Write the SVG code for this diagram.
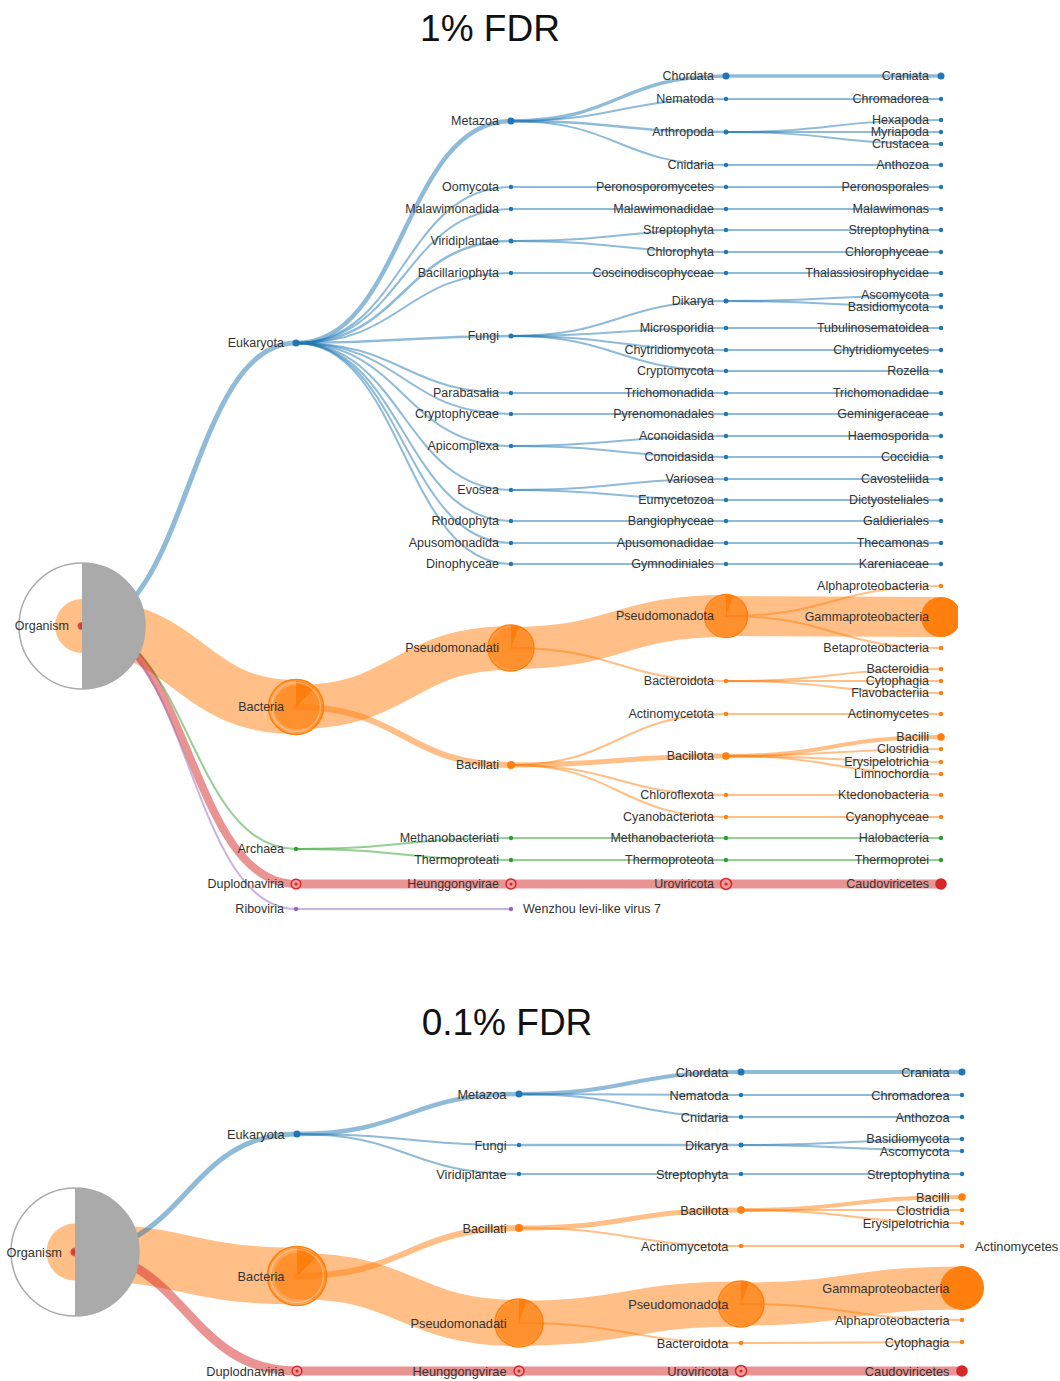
<svg xmlns="http://www.w3.org/2000/svg" width="1060" height="1381" viewBox="0 0 1060 1381">
<style>
.l{fill:none;stroke-opacity:.5;stroke-linecap:round}
.b{stroke:#1f77b4}.o{stroke:#ff7f0e}.g{stroke:#2ca02c}.r{stroke:#d62728}.p{stroke:#9467bd}
.w2{stroke-width:2}
text{font-family:"Liberation Sans",Arial,sans-serif;fill:#333}
.t{font-size:12.5px;text-anchor:end}
.tb{font-size:12.8px;text-anchor:end}
.ts{text-anchor:start}
.title{font-size:37px;fill:#111;text-anchor:middle}
.db{fill:#1f77b4}.do{fill:#ff7f0e}.dg{fill:#2ca02c}.dp{fill:#9467bd}
.pie{fill:#ff7f0e;fill-opacity:.45;stroke:#ff7f0e;stroke-width:1.5}
.wedge{fill:#ff7f0e}
.ring{fill:none;stroke:#fff;stroke-opacity:.3;stroke-width:1.5}
.vr{fill:#ec9c9c;stroke:#d62728;stroke-width:1.5}
.vc{fill:#d62728}
.org{fill:none;stroke:#aaa;stroke-width:1.5}
.orgf{fill:#aaa}
</style>
<defs>
<clipPath id="clipTop"><rect x="0" y="0" width="958" height="960"/></clipPath>
</defs>

<text class="title" x="490" y="41">1% FDR</text>
<text class="title" x="507" y="1035">0.1% FDR</text>

<g id="top" clip-path="url(#clipTop)">
<g id="connectors-top">
<path class="l o" stroke-width="54" d="M82 626C189 626 189 707 296 707"/>
<path class="l o" stroke-width="44" d="M296 707C403.5 707 403.5 648 511 648"/>
<path class="l o" stroke-width="42" d="M511 648C618.5 648 618.5 616 726 616"/>
<path class="l o" stroke-width="40" d="M726 616C833.5 616 833.5 617 941 617"/>
<path class="l b" stroke-width="5" d="M82 626C189 626 189 343 296 343"/>
<path class="l g w2" d="M82 626C189 626 189 849 296 849"/>
<path class="l r" stroke-width="8" d="M82 626C189 626 189 884 296 884"/>
<path class="l p w2" d="M82 626C189 626 189 909 296 909"/>
<path class="l b" stroke-width="4.5" d="M296 343C403.5 343 403.5 121 511 121"/>
<path class="l b w2" d="M296 343C403.5 343 403.5 187 511 187"/>
<path class="l b w2" d="M296 343C403.5 343 403.5 209 511 209"/>
<path class="l b" stroke-width="2.5" d="M296 343C403.5 343 403.5 241 511 241"/>
<path class="l b w2" d="M296 343C403.5 343 403.5 273 511 273"/>
<path class="l b" stroke-width="2.5" d="M296 343C403.5 343 403.5 336 511 336"/>
<path class="l b w2" d="M296 343C403.5 343 403.5 393 511 393"/>
<path class="l b w2" d="M296 343C403.5 343 403.5 414 511 414"/>
<path class="l b w2" d="M296 343C403.5 343 403.5 446 511 446"/>
<path class="l b w2" d="M296 343C403.5 343 403.5 490 511 490"/>
<path class="l b w2" d="M296 343C403.5 343 403.5 521 511 521"/>
<path class="l b w2" d="M296 343C403.5 343 403.5 543 511 543"/>
<path class="l b w2" d="M296 343C403.5 343 403.5 564 511 564"/>
<path class="l b" stroke-width="3.5" d="M511 121C618.5 121 618.5 76 726 76"/>
<path class="l b w2" d="M511 121C618.5 121 618.5 99 726 99"/>
<path class="l b" stroke-width="2.5" d="M511 121C618.5 121 618.5 132 726 132"/>
<path class="l b w2" d="M511 121C618.5 121 618.5 165 726 165"/>
<path class="l b w2" d="M511 187C618.5 187 618.5 187 726 187"/>
<path class="l b w2" d="M511 209C618.5 209 618.5 209 726 209"/>
<path class="l b w2" d="M511 241C618.5 241 618.5 230 726 230"/>
<path class="l b w2" d="M511 241C618.5 241 618.5 252 726 252"/>
<path class="l b w2" d="M511 273C618.5 273 618.5 273 726 273"/>
<path class="l b w2" d="M511 336C618.5 336 618.5 301 726 301"/>
<path class="l b w2" d="M511 336C618.5 336 618.5 328 726 328"/>
<path class="l b w2" d="M511 336C618.5 336 618.5 350 726 350"/>
<path class="l b w2" d="M511 336C618.5 336 618.5 371 726 371"/>
<path class="l b w2" d="M511 393C618.5 393 618.5 393 726 393"/>
<path class="l b w2" d="M511 414C618.5 414 618.5 414 726 414"/>
<path class="l b w2" d="M511 446C618.5 446 618.5 436 726 436"/>
<path class="l b w2" d="M511 446C618.5 446 618.5 457 726 457"/>
<path class="l b w2" d="M511 490C618.5 490 618.5 479 726 479"/>
<path class="l b w2" d="M511 490C618.5 490 618.5 500 726 500"/>
<path class="l b w2" d="M511 521C618.5 521 618.5 521 726 521"/>
<path class="l b w2" d="M511 543C618.5 543 618.5 543 726 543"/>
<path class="l b w2" d="M511 564C618.5 564 618.5 564 726 564"/>
<path class="l b" stroke-width="3.5" d="M726 76C833.5 76 833.5 76 941 76"/>
<path class="l b w2" d="M726 99C833.5 99 833.5 99 941 99"/>
<path class="l b w2" d="M726 132C833.5 132 833.5 120 941 120"/>
<path class="l b w2" d="M726 132C833.5 132 833.5 132 941 132"/>
<path class="l b w2" d="M726 132C833.5 132 833.5 144 941 144"/>
<path class="l b w2" d="M726 165C833.5 165 833.5 165 941 165"/>
<path class="l b w2" d="M726 187C833.5 187 833.5 187 941 187"/>
<path class="l b w2" d="M726 209C833.5 209 833.5 209 941 209"/>
<path class="l b w2" d="M726 230C833.5 230 833.5 230 941 230"/>
<path class="l b w2" d="M726 252C833.5 252 833.5 252 941 252"/>
<path class="l b w2" d="M726 273C833.5 273 833.5 273 941 273"/>
<path class="l b w2" d="M726 301C833.5 301 833.5 295 941 295"/>
<path class="l b w2" d="M726 301C833.5 301 833.5 307 941 307"/>
<path class="l b w2" d="M726 328C833.5 328 833.5 328 941 328"/>
<path class="l b w2" d="M726 350C833.5 350 833.5 350 941 350"/>
<path class="l b w2" d="M726 371C833.5 371 833.5 371 941 371"/>
<path class="l b w2" d="M726 393C833.5 393 833.5 393 941 393"/>
<path class="l b w2" d="M726 414C833.5 414 833.5 414 941 414"/>
<path class="l b w2" d="M726 436C833.5 436 833.5 436 941 436"/>
<path class="l b w2" d="M726 457C833.5 457 833.5 457 941 457"/>
<path class="l b w2" d="M726 479C833.5 479 833.5 479 941 479"/>
<path class="l b w2" d="M726 500C833.5 500 833.5 500 941 500"/>
<path class="l b w2" d="M726 521C833.5 521 833.5 521 941 521"/>
<path class="l b w2" d="M726 543C833.5 543 833.5 543 941 543"/>
<path class="l b w2" d="M726 564C833.5 564 833.5 564 941 564"/>
<path class="l o" stroke-width="6" d="M296 707C403.5 707 403.5 765 511 765"/>
<path class="l o w2" d="M511 648C618.5 648 618.5 681 726 681"/>
<path class="l o w2" d="M511 765C618.5 765 618.5 714 726 714"/>
<path class="l o" stroke-width="5" d="M511 765C618.5 765 618.5 756 726 756"/>
<path class="l o w2" d="M511 765C618.5 765 618.5 795 726 795"/>
<path class="l o w2" d="M511 765C618.5 765 618.5 817 726 817"/>
<path class="l o w2" d="M726 616C833.5 616 833.5 586 941 586"/>
<path class="l o w2" d="M726 616C833.5 616 833.5 648 941 648"/>
<path class="l o w2" d="M726 681C833.5 681 833.5 669 941 669"/>
<path class="l o w2" d="M726 681C833.5 681 833.5 681 941 681"/>
<path class="l o w2" d="M726 681C833.5 681 833.5 693 941 693"/>
<path class="l o w2" d="M726 714C833.5 714 833.5 714 941 714"/>
<path class="l o" stroke-width="4" d="M726 756C833.5 756 833.5 737 941 737"/>
<path class="l o w2" d="M726 756C833.5 756 833.5 749 941 749"/>
<path class="l o w2" d="M726 756C833.5 756 833.5 762 941 762"/>
<path class="l o w2" d="M726 756C833.5 756 833.5 774 941 774"/>
<path class="l o w2" d="M726 795C833.5 795 833.5 795 941 795"/>
<path class="l o w2" d="M726 817C833.5 817 833.5 817 941 817"/>
<path class="l g w2" d="M296 849C403.5 849 403.5 838 511 838"/>
<path class="l g w2" d="M296 849C403.5 849 403.5 860 511 860"/>
<path class="l g w2" d="M511 838C618.5 838 618.5 838 726 838"/>
<path class="l g w2" d="M511 860C618.5 860 618.5 860 726 860"/>
<path class="l g w2" d="M726 838C833.5 838 833.5 838 941 838"/>
<path class="l g w2" d="M726 860C833.5 860 833.5 860 941 860"/>
<path class="l r" stroke-width="9" d="M296 884C403.5 884 403.5 884 511 884"/>
<path class="l r" stroke-width="9" d="M511 884C618.5 884 618.5 884 726 884"/>
<path class="l r" stroke-width="9" d="M726 884C833.5 884 833.5 884 941 884"/>
<path class="l p w2" d="M296 909C403.5 909 403.5 909 511 909"/>
</g>

<g id="nodes-top">
<g id="t-organism"><circle cx="81" cy="626" r="3.5" fill="#d62728" fill-opacity=".6"/><circle class="org" cx="82" cy="626" r="63"/><path class="orgf" d="M82 563A63 63 0 0 1 82 689Z"/><text class="t" x="69" y="630">Organism</text></g>
<g id="t-eukaryota"><circle class="db" cx="296" cy="343" r="3.5"/><text class="t" x="284" y="347">Eukaryota</text></g>
<g id="t-bacteria"><circle class="pie" cx="296" cy="707" r="27.5"/><path class="wedge" d="M296 707L296 681A26 26 0 0 1 314.4 688.6Z"/><circle class="ring" cx="296" cy="707" r="24.5"/><text class="t" x="284" y="711">Bacteria</text></g>
<g id="t-archaea"><circle class="dg" cx="296" cy="849" r="2.2"/><text class="t" x="284" y="853">Archaea</text></g>
<g id="t-duplodnaviria"><circle class="vr" cx="296" cy="884" r="4.8"/><circle class="vc" cx="296" cy="884" r="1.6"/><text class="t" x="284" y="888">Duplodnaviria</text></g>
<g id="t-riboviria"><circle class="dp" cx="296" cy="909" r="2.2"/><text class="t" x="284" y="913">Riboviria</text></g>

<g id="t-metazoa"><circle class="db" cx="511" cy="121" r="3.5"/><text class="t" x="499" y="125">Metazoa</text></g>
<g id="t-oomycota"><circle class="db" cx="511" cy="187" r="2.2"/><text class="t" x="499" y="191">Oomycota</text></g>
<g id="t-malawimonadida"><circle class="db" cx="511" cy="209" r="2.2"/><text class="t" x="499" y="213">Malawimonadida</text></g>
<g id="t-viridiplantae"><circle class="db" cx="511" cy="241" r="2.5"/><text class="t" x="499" y="245">Viridiplantae</text></g>
<g id="t-bacillariophyta"><circle class="db" cx="511" cy="273" r="2.2"/><text class="t" x="499" y="277">Bacillariophyta</text></g>
<g id="t-fungi"><circle class="db" cx="511" cy="336" r="2.5"/><text class="t" x="499" y="340">Fungi</text></g>
<g id="t-parabasalia"><circle class="db" cx="511" cy="393" r="2.2"/><text class="t" x="499" y="397">Parabasalia</text></g>
<g id="t-cryptophyceae"><circle class="db" cx="511" cy="414" r="2.2"/><text class="t" x="499" y="418">Cryptophyceae</text></g>
<g id="t-apicomplexa"><circle class="db" cx="511" cy="446" r="2.2"/><text class="t" x="499" y="450">Apicomplexa</text></g>
<g id="t-evosea"><circle class="db" cx="511" cy="490" r="2.2"/><text class="t" x="499" y="494">Evosea</text></g>
<g id="t-rhodophyta"><circle class="db" cx="511" cy="521" r="2.2"/><text class="t" x="499" y="525">Rhodophyta</text></g>
<g id="t-apusomonadida"><circle class="db" cx="511" cy="543" r="2.2"/><text class="t" x="499" y="547">Apusomonadida</text></g>
<g id="t-dinophyceae"><circle class="db" cx="511" cy="564" r="2.2"/><text class="t" x="499" y="568">Dinophyceae</text></g>
<g id="t-pseudomonadati"><circle class="pie" cx="511" cy="648" r="23"/><path class="wedge" d="M511 648L511 625A23 23 0 0 1 518.9 626.4Z"/><text class="t" x="499" y="652">Pseudomonadati</text></g>
<g id="t-bacillati"><circle class="do" cx="511" cy="765" r="4"/><text class="t" x="499" y="769">Bacillati</text></g>
<g id="t-methanobacteriati"><circle class="dg" cx="511" cy="838" r="2.2"/><text class="t" x="499" y="842">Methanobacteriati</text></g>
<g id="t-thermoproteati"><circle class="dg" cx="511" cy="860" r="2.2"/><text class="t" x="499" y="864">Thermoproteati</text></g>
<g id="t-heunggongvirae"><circle class="vr" cx="511" cy="884" r="5"/><circle class="vc" cx="511" cy="884" r="1.6"/><text class="t" x="499" y="888">Heunggongvirae</text></g>
<g id="t-wenzhou"><circle class="dp" cx="511" cy="909" r="2.2"/><text class="t ts" x="523" y="913">Wenzhou levi-like virus 7</text></g>

<g id="t-chordata"><circle class="db" cx="726" cy="76" r="3.5"/><text class="t" x="714" y="80">Chordata</text></g>
<g id="t-nematoda"><circle class="db" cx="726" cy="99" r="2.2"/><text class="t" x="714" y="103">Nematoda</text></g>
<g id="t-arthropoda"><circle class="db" cx="726" cy="132" r="2.5"/><text class="t" x="714" y="136">Arthropoda</text></g>
<g id="t-cnidaria"><circle class="db" cx="726" cy="165" r="2.2"/><text class="t" x="714" y="169">Cnidaria</text></g>
<g id="t-peronosporomycetes"><circle class="db" cx="726" cy="187" r="2.2"/><text class="t" x="714" y="191">Peronosporomycetes</text></g>
<g id="t-malawimonadidae"><circle class="db" cx="726" cy="209" r="2.2"/><text class="t" x="714" y="213">Malawimonadidae</text></g>
<g id="t-streptophyta"><circle class="db" cx="726" cy="230" r="2.2"/><text class="t" x="714" y="234">Streptophyta</text></g>
<g id="t-chlorophyta"><circle class="db" cx="726" cy="252" r="2.2"/><text class="t" x="714" y="256">Chlorophyta</text></g>
<g id="t-coscinodiscophyceae"><circle class="db" cx="726" cy="273" r="2.2"/><text class="t" x="714" y="277">Coscinodiscophyceae</text></g>
<g id="t-dikarya"><circle class="db" cx="726" cy="301" r="2.5"/><text class="t" x="714" y="305">Dikarya</text></g>
<g id="t-microsporidia"><circle class="db" cx="726" cy="328" r="2.2"/><text class="t" x="714" y="332">Microsporidia</text></g>
<g id="t-chytridiomycota"><circle class="db" cx="726" cy="350" r="2.2"/><text class="t" x="714" y="354">Chytridiomycota</text></g>
<g id="t-cryptomycota"><circle class="db" cx="726" cy="371" r="2.2"/><text class="t" x="714" y="375">Cryptomycota</text></g>
<g id="t-trichomonadida"><circle class="db" cx="726" cy="393" r="2.2"/><text class="t" x="714" y="397">Trichomonadida</text></g>
<g id="t-pyrenomonadales"><circle class="db" cx="726" cy="414" r="2.2"/><text class="t" x="714" y="418">Pyrenomonadales</text></g>
<g id="t-aconoidasida"><circle class="db" cx="726" cy="436" r="2.2"/><text class="t" x="714" y="440">Aconoidasida</text></g>
<g id="t-conoidasida"><circle class="db" cx="726" cy="457" r="2.2"/><text class="t" x="714" y="461">Conoidasida</text></g>
<g id="t-variosea"><circle class="db" cx="726" cy="479" r="2.2"/><text class="t" x="714" y="483">Variosea</text></g>
<g id="t-eumycetozoa"><circle class="db" cx="726" cy="500" r="2.2"/><text class="t" x="714" y="504">Eumycetozoa</text></g>
<g id="t-bangiophyceae"><circle class="db" cx="726" cy="521" r="2.2"/><text class="t" x="714" y="525">Bangiophyceae</text></g>
<g id="t-apusomonadidae"><circle class="db" cx="726" cy="543" r="2.2"/><text class="t" x="714" y="547">Apusomonadidae</text></g>
<g id="t-gymnodiniales"><circle class="db" cx="726" cy="564" r="2.2"/><text class="t" x="714" y="568">Gymnodiniales</text></g>
<g id="t-pseudomonadota"><circle class="pie" cx="726" cy="616" r="21.5"/><path class="wedge" d="M726 616L726 594.5A21.5 21.5 0 0 1 733.4 595.8Z"/><text class="t" x="714" y="620">Pseudomonadota</text></g>
<g id="t-bacteroidota"><circle class="do" cx="726" cy="681" r="2.2"/><text class="t" x="714" y="685">Bacteroidota</text></g>
<g id="t-actinomycetota"><circle class="do" cx="726" cy="714" r="2.2"/><text class="t" x="714" y="718">Actinomycetota</text></g>
<g id="t-bacillota"><circle class="do" cx="726" cy="756" r="3.8"/><text class="t" x="714" y="760">Bacillota</text></g>
<g id="t-chloroflexota"><circle class="do" cx="726" cy="795" r="2.2"/><text class="t" x="714" y="799">Chloroflexota</text></g>
<g id="t-cyanobacteriota"><circle class="do" cx="726" cy="817" r="2.2"/><text class="t" x="714" y="821">Cyanobacteriota</text></g>
<g id="t-methanobacteriota"><circle class="dg" cx="726" cy="838" r="2.2"/><text class="t" x="714" y="842">Methanobacteriota</text></g>
<g id="t-thermoproteota"><circle class="dg" cx="726" cy="860" r="2.2"/><text class="t" x="714" y="864">Thermoproteota</text></g>
<g id="t-uroviricota"><circle class="vr" cx="726" cy="884" r="5.5"/><circle class="vc" cx="726" cy="884" r="1.6"/><text class="t" x="714" y="888">Uroviricota</text></g>

<g id="t-craniata"><circle class="db" cx="941" cy="76" r="3.5"/><text class="t" x="929" y="80">Craniata</text></g>
<g id="t-chromadorea"><circle class="db" cx="941" cy="99" r="2.2"/><text class="t" x="929" y="103">Chromadorea</text></g>
<g id="t-hexapoda"><circle class="db" cx="941" cy="120" r="2.2"/><text class="t" x="929" y="124">Hexapoda</text></g>
<g id="t-myriapoda"><circle class="db" cx="941" cy="132" r="2.2"/><text class="t" x="929" y="136">Myriapoda</text></g>
<g id="t-crustacea"><circle class="db" cx="941" cy="144" r="2.2"/><text class="t" x="929" y="148">Crustacea</text></g>
<g id="t-anthozoa"><circle class="db" cx="941" cy="165" r="2.2"/><text class="t" x="929" y="169">Anthozoa</text></g>
<g id="t-peronosporales"><circle class="db" cx="941" cy="187" r="2.2"/><text class="t" x="929" y="191">Peronosporales</text></g>
<g id="t-malawimonas"><circle class="db" cx="941" cy="209" r="2.2"/><text class="t" x="929" y="213">Malawimonas</text></g>
<g id="t-streptophytina"><circle class="db" cx="941" cy="230" r="2.2"/><text class="t" x="929" y="234">Streptophytina</text></g>
<g id="t-chlorophyceae"><circle class="db" cx="941" cy="252" r="2.2"/><text class="t" x="929" y="256">Chlorophyceae</text></g>
<g id="t-thalassiosirophycidae"><circle class="db" cx="941" cy="273" r="2.2"/><text class="t" x="929" y="277">Thalassiosirophycidae</text></g>
<g id="t-ascomycota"><circle class="db" cx="941" cy="295" r="2.2"/><text class="t" x="929" y="299">Ascomycota</text></g>
<g id="t-basidiomycota"><circle class="db" cx="941" cy="307" r="2.2"/><text class="t" x="929" y="311">Basidiomycota</text></g>
<g id="t-tubulinosematoidea"><circle class="db" cx="941" cy="328" r="2.2"/><text class="t" x="929" y="332">Tubulinosematoidea</text></g>
<g id="t-chytridiomycetes"><circle class="db" cx="941" cy="350" r="2.2"/><text class="t" x="929" y="354">Chytridiomycetes</text></g>
<g id="t-rozella"><circle class="db" cx="941" cy="371" r="2.2"/><text class="t" x="929" y="375">Rozella</text></g>
<g id="t-trichomonadidae"><circle class="db" cx="941" cy="393" r="2.2"/><text class="t" x="929" y="397">Trichomonadidae</text></g>
<g id="t-geminigeraceae"><circle class="db" cx="941" cy="414" r="2.2"/><text class="t" x="929" y="418">Geminigeraceae</text></g>
<g id="t-haemosporida"><circle class="db" cx="941" cy="436" r="2.2"/><text class="t" x="929" y="440">Haemosporida</text></g>
<g id="t-coccidia"><circle class="db" cx="941" cy="457" r="2.2"/><text class="t" x="929" y="461">Coccidia</text></g>
<g id="t-cavosteliida"><circle class="db" cx="941" cy="479" r="2.2"/><text class="t" x="929" y="483">Cavosteliida</text></g>
<g id="t-dictyosteliales"><circle class="db" cx="941" cy="500" r="2.2"/><text class="t" x="929" y="504">Dictyosteliales</text></g>
<g id="t-galdieriales"><circle class="db" cx="941" cy="521" r="2.2"/><text class="t" x="929" y="525">Galdieriales</text></g>
<g id="t-thecamonas"><circle class="db" cx="941" cy="543" r="2.2"/><text class="t" x="929" y="547">Thecamonas</text></g>
<g id="t-kareniaceae"><circle class="db" cx="941" cy="564" r="2.2"/><text class="t" x="929" y="568">Kareniaceae</text></g>
<g id="t-alphaproteobacteria"><circle class="do" cx="941" cy="586" r="2.2"/><text class="t" x="929" y="590">Alphaproteobacteria</text></g>
<g id="t-gammaproteobacteria"><circle class="do" cx="941" cy="617" r="20"/><text class="t" x="929" y="621">Gammaproteobacteria</text></g>
<g id="t-betaproteobacteria"><circle class="do" cx="941" cy="648" r="2.2"/><text class="t" x="929" y="652">Betaproteobacteria</text></g>
<g id="t-bacteroidia"><circle class="do" cx="941" cy="669" r="2.2"/><text class="t" x="929" y="673">Bacteroidia</text></g>
<g id="t-cytophagia"><circle class="do" cx="941" cy="681" r="2.2"/><text class="t" x="929" y="685">Cytophagia</text></g>
<g id="t-flavobacteriia"><circle class="do" cx="941" cy="693" r="2.2"/><text class="t" x="929" y="697">Flavobacteriia</text></g>
<g id="t-actinomycetes"><circle class="do" cx="941" cy="714" r="2.2"/><text class="t" x="929" y="718">Actinomycetes</text></g>
<g id="t-bacilli"><circle class="do" cx="941" cy="737" r="3.8"/><text class="t" x="929" y="741">Bacilli</text></g>
<g id="t-clostridia"><circle class="do" cx="941" cy="749" r="2.2"/><text class="t" x="929" y="753">Clostridia</text></g>
<g id="t-erysipelotrichia"><circle class="do" cx="941" cy="762" r="2.2"/><text class="t" x="929" y="766">Erysipelotrichia</text></g>
<g id="t-limnochordia"><circle class="do" cx="941" cy="774" r="2.2"/><text class="t" x="929" y="778">Limnochordia</text></g>
<g id="t-ktedonobacteria"><circle class="do" cx="941" cy="795" r="2.2"/><text class="t" x="929" y="799">Ktedonobacteria</text></g>
<g id="t-cyanophyceae"><circle class="do" cx="941" cy="817" r="2.2"/><text class="t" x="929" y="821">Cyanophyceae</text></g>
<g id="t-halobacteria"><circle class="dg" cx="941" cy="838" r="2.2"/><text class="t" x="929" y="842">Halobacteria</text></g>
<g id="t-thermoprotei"><circle class="dg" cx="941" cy="860" r="2.2"/><text class="t" x="929" y="864">Thermoprotei</text></g>
<g id="t-caudoviricetes"><circle class="vc" cx="941" cy="884" r="5.8"/><text class="t" x="929" y="888">Caudoviricetes</text></g>
</g>
</g>

<g id="bottom">
<g id="connectors-bottom">
<path class="l o" stroke-width="57" d="M75 1252C186 1252 186 1276 297 1276"/>
<path class="l o" stroke-width="46" d="M297 1276C408 1276 408 1323 519 1323"/>
<path class="l o" stroke-width="45" d="M519 1323C630 1323 630 1304 741 1304"/>
<path class="l o" stroke-width="43" d="M741 1304C851.5 1304 851.5 1288 962 1288"/>
<path class="l b" stroke-width="5" d="M75 1252C186 1252 186 1134 297 1134"/>
<path class="l r" stroke-width="9" d="M75 1252C186 1252 186 1371 297 1371"/>
<path class="l b" stroke-width="4.5" d="M297 1134C408 1134 408 1094 519 1094"/>
<path class="l b w2" d="M297 1134C408 1134 408 1145 519 1145"/>
<path class="l b w2" d="M297 1134C408 1134 408 1174 519 1174"/>
<path class="l b" stroke-width="4" d="M519 1094C630 1094 630 1072 741 1072"/>
<path class="l b w2" d="M519 1094C630 1094 630 1095 741 1095"/>
<path class="l b w2" d="M519 1094C630 1094 630 1117 741 1117"/>
<path class="l b" stroke-width="2.5" d="M519 1145C630 1145 630 1145 741 1145"/>
<path class="l b w2" d="M519 1174C630 1174 630 1174 741 1174"/>
<path class="l b" stroke-width="4" d="M741 1072C851.5 1072 851.5 1072 962 1072"/>
<path class="l b w2" d="M741 1095C851.5 1095 851.5 1095 962 1095"/>
<path class="l b w2" d="M741 1117C851.5 1117 851.5 1117 962 1117"/>
<path class="l b w2" d="M741 1145C851.5 1145 851.5 1139 962 1139"/>
<path class="l b w2" d="M741 1145C851.5 1145 851.5 1151 962 1151"/>
<path class="l b w2" d="M741 1174C851.5 1174 851.5 1174 962 1174"/>
<path class="l o" stroke-width="6" d="M297 1276C408 1276 408 1228 519 1228"/>
<path class="l o" stroke-width="5" d="M519 1228C630 1228 630 1210 741 1210"/>
<path class="l o w2" d="M519 1228C630 1228 630 1246 741 1246"/>
<path class="l o w2" d="M519 1323C630 1323 630 1343 741 1343"/>
<path class="l o" stroke-width="4" d="M741 1210C851.5 1210 851.5 1197 962 1197"/>
<path class="l o w2" d="M741 1210C851.5 1210 851.5 1210 962 1210"/>
<path class="l o w2" d="M741 1210C851.5 1210 851.5 1223 962 1223"/>
<path class="l o w2" d="M741 1246C851.5 1246 851.5 1246 962 1246"/>
<path class="l o w2" d="M741 1304C851.5 1304 851.5 1320 962 1320"/>
<path class="l o w2" d="M741 1343C851.5 1343 851.5 1342 962 1342"/>
<path class="l r" stroke-width="9" d="M297 1371C408 1371 408 1371 519 1371"/>
<path class="l r" stroke-width="9" d="M519 1371C630 1371 630 1371 741 1371"/>
<path class="l r" stroke-width="9" d="M741 1371C851.5 1371 851.5 1371 962 1371"/>
</g>

<g id="nodes-bottom">
<g id="b-organism"><circle cx="74" cy="1252" r="3.5" fill="#d62728" fill-opacity=".6"/><circle class="org" cx="75" cy="1252" r="64"/><path class="orgf" d="M75 1188A64 64 0 0 1 75 1316Z"/><text class="tb" x="62" y="1256.5">Organism</text></g>
<g id="b-eukaryota"><circle class="db" cx="297" cy="1134" r="3.5"/><text class="tb" x="284.5" y="1138.5">Eukaryota</text></g>
<g id="b-bacteria"><circle class="pie" cx="297" cy="1276" r="29.5"/><path class="wedge" d="M297 1276L297 1248A28 28 0 0 1 316.8 1256.2Z"/><circle class="ring" cx="297" cy="1276" r="26.5"/><text class="tb" x="284.5" y="1280.5">Bacteria</text></g>
<g id="b-duplodnaviria"><circle class="vr" cx="297" cy="1371" r="4.8"/><circle class="vc" cx="297" cy="1371" r="1.6"/><text class="tb" x="284.5" y="1375.5">Duplodnaviria</text></g>

<g id="b-metazoa"><circle class="db" cx="519" cy="1094" r="3.5"/><text class="tb" x="506.5" y="1098.5">Metazoa</text></g>
<g id="b-fungi"><circle class="db" cx="519" cy="1145" r="2.2"/><text class="tb" x="506.5" y="1149.5">Fungi</text></g>
<g id="b-viridiplantae"><circle class="db" cx="519" cy="1174" r="2.2"/><text class="tb" x="506.5" y="1178.5">Viridiplantae</text></g>
<g id="b-bacillati"><circle class="do" cx="519" cy="1228" r="4"/><text class="tb" x="506.5" y="1232.5">Bacillati</text></g>
<g id="b-pseudomonadati"><circle class="pie" cx="519" cy="1323" r="24"/><path class="wedge" d="M519 1323L519 1299A24 24 0 0 1 526.4 1300.2Z"/><text class="tb" x="506.5" y="1327.5">Pseudomonadati</text></g>
<g id="b-heunggongvirae"><circle class="vr" cx="519" cy="1371" r="5"/><circle class="vc" cx="519" cy="1371" r="1.6"/><text class="tb" x="506.5" y="1375.5">Heunggongvirae</text></g>

<g id="b-chordata"><circle class="db" cx="741" cy="1072" r="3.5"/><text class="tb" x="728.5" y="1076.5">Chordata</text></g>
<g id="b-nematoda"><circle class="db" cx="741" cy="1095" r="2.2"/><text class="tb" x="728.5" y="1099.5">Nematoda</text></g>
<g id="b-cnidaria"><circle class="db" cx="741" cy="1117" r="2.2"/><text class="tb" x="728.5" y="1121.5">Cnidaria</text></g>
<g id="b-dikarya"><circle class="db" cx="741" cy="1145" r="2.5"/><text class="tb" x="728.5" y="1149.5">Dikarya</text></g>
<g id="b-streptophyta"><circle class="db" cx="741" cy="1174" r="2.2"/><text class="tb" x="728.5" y="1178.5">Streptophyta</text></g>
<g id="b-bacillota"><circle class="do" cx="741" cy="1210" r="3.8"/><text class="tb" x="728.5" y="1214.5">Bacillota</text></g>
<g id="b-actinomycetota"><circle class="do" cx="741" cy="1246" r="2.2"/><text class="tb" x="728.5" y="1250.5">Actinomycetota</text></g>
<g id="b-pseudomonadota"><circle class="pie" cx="741" cy="1304" r="23"/><path class="wedge" d="M741 1304L741 1281A23 23 0 0 1 748.9 1282.4Z"/><text class="tb" x="728.5" y="1308.5">Pseudomonadota</text></g>
<g id="b-bacteroidota"><circle class="do" cx="741" cy="1343" r="2.2"/><text class="tb" x="728.5" y="1347.5">Bacteroidota</text></g>
<g id="b-uroviricota"><circle class="vr" cx="741" cy="1371" r="5.5"/><circle class="vc" cx="741" cy="1371" r="1.6"/><text class="tb" x="728.5" y="1375.5">Uroviricota</text></g>

<g id="b-craniata"><circle class="db" cx="962" cy="1072" r="3.5"/><text class="tb" x="949.5" y="1076.5">Craniata</text></g>
<g id="b-chromadorea"><circle class="db" cx="962" cy="1095" r="2.2"/><text class="tb" x="949.5" y="1099.5">Chromadorea</text></g>
<g id="b-anthozoa"><circle class="db" cx="962" cy="1117" r="2.2"/><text class="tb" x="949.5" y="1121.5">Anthozoa</text></g>
<g id="b-basidiomycota"><circle class="db" cx="962" cy="1139" r="2.2"/><text class="tb" x="949.5" y="1143">Basidiomycota</text></g>
<g id="b-ascomycota"><circle class="db" cx="962" cy="1151" r="2.2"/><text class="tb" x="949.5" y="1156">Ascomycota</text></g>
<g id="b-streptophytina"><circle class="db" cx="962" cy="1174" r="2.2"/><text class="tb" x="949.5" y="1178.5">Streptophytina</text></g>
<g id="b-bacilli"><circle class="do" cx="962" cy="1197" r="3.8"/><text class="tb" x="949.5" y="1201.5">Bacilli</text></g>
<g id="b-clostridia"><circle class="do" cx="962" cy="1210" r="2.2"/><text class="tb" x="949.5" y="1214.5">Clostridia</text></g>
<g id="b-erysipelotrichia"><circle class="do" cx="962" cy="1223" r="2.2"/><text class="tb" x="949.5" y="1227.5">Erysipelotrichia</text></g>
<g id="b-actinomycetes"><circle class="do" cx="962" cy="1246" r="2.2"/><text class="tb ts" x="975" y="1250.5">Actinomycetes</text></g>
<g id="b-gammaproteobacteria"><circle class="do" cx="962" cy="1288" r="22"/><text class="tb" x="949.5" y="1292.5">Gammaproteobacteria</text></g>
<g id="b-alphaproteobacteria"><circle class="do" cx="962" cy="1320" r="2.2"/><text class="tb" x="949.5" y="1324.5">Alphaproteobacteria</text></g>
<g id="b-cytophagia"><circle class="do" cx="962" cy="1342" r="2.2"/><text class="tb" x="949.5" y="1346.5">Cytophagia</text></g>
<g id="b-caudoviricetes"><circle class="vc" cx="962" cy="1371" r="5.8"/><text class="tb" x="949.5" y="1375.5">Caudoviricetes</text></g>
</g>
</g>
</svg>
